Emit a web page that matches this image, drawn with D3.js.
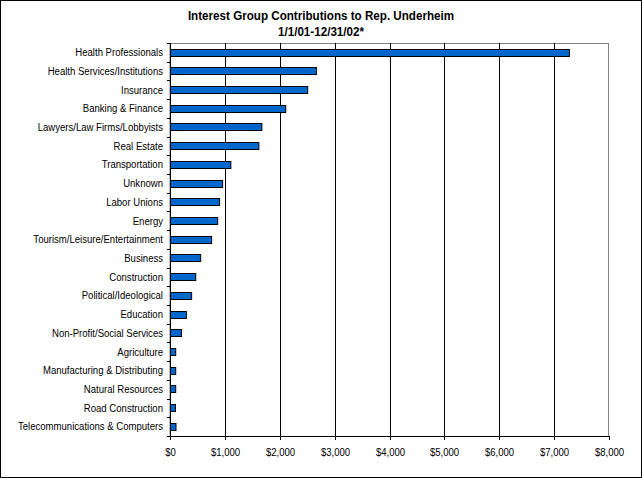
<!DOCTYPE html>
<html>
<head>
<meta charset="utf-8">
<script src="https://cdn.jsdelivr.net/npm/d3@7"></script>
<style>
  body { margin: 0; background: #fff; }
  svg { display: block; font-family: "Liberation Sans", Arial, sans-serif; }
</style>
</head>
<body>
<svg id="chart" width="642" height="478"></svg>
<script>
"use strict";

// contributions by interest group
var groups = [
  "Health Professionals", "Health Services/Institutions", "Insurance", "Banking & Finance",
  "Lawyers/Law Firms/Lobbyists", "Real Estate", "Transportation", "Unknown", "Labor Unions",
  "Energy", "Tourism/Leisure/Entertainment", "Business", "Construction", "Political/Ideological",
  "Education", "Non-Profit/Social Services", "Agriculture", "Manufacturing & Distributing",
  "Natural Resources", "Road Construction", "Telecommunications & Computers"
];
var amounts = [7270, 2660, 2500, 2100, 1665, 1610, 1100, 950, 895, 860, 750, 550, 460, 385,
  290, 200, 95, 95, 95, 90, 100];
var xTicks = [0, 1000, 2000, 3000, 4000, 5000, 6000, 7000, 8000];

var svg = d3.select("#chart");
var margin = { left: 170, right: 33, top: 43, bottom: 42 };
var width = 642 - margin.left - margin.right;
var height = 478 - margin.top - margin.bottom;
// the original font is narrower than Arial, squeeze labels a bit
var squeeze = 0.87;

// outer frame
svg.append("rect")
  .attr("x", 0.5).attr("y", 0.5)
  .attr("width", 641).attr("height", 477)
  .attr("fill", "#fff").attr("stroke", "#000");

// title
svg.append("text").text("Interest Group Contributions to Rep. Underheim")
  .attr("transform", "translate(321,20) scale(0.97,1)").attr("text-anchor", "middle")
  .attr("font-size", "12px").attr("font-weight", "bold");
svg.append("text").text("1/1/01-12/31/02*")
  .attr("transform", "translate(321,36) scale(0.97,1)").attr("text-anchor", "middle")
  .attr("font-size", "12px").attr("font-weight", "bold");

var x = d3.scaleLinear().domain([0, 8000]).range([0, width]);
var y = d3.scaleBand().domain(groups).range([0, height]).paddingInner(0.6).paddingOuter(0.3);
var yEdge = d3.scaleLinear().domain([0, groups.length]).range([0, height]);

var g = svg.append("g").attr("transform", "translate(" + margin.left + "," + margin.top + ")");

// plot area border (grey)
g.append("rect")
  .attr("x", 0).attr("y", 0.5)
  .attr("width", width - 0.5).attr("height", height)
  .attr("fill", "none").attr("stroke", "#808080");

// vertical gridlines
g.selectAll("line.grid")
  .data(xTicks.slice(1, -1))
  .enter().append("line")
  .attr("class", "grid")
  .attr("x1", function(d) { return Math.round(x(d)) + 0.5; })
  .attr("x2", function(d) { return Math.round(x(d)) + 0.5; })
  .attr("y1", 0).attr("y2", height)
  .attr("stroke", "#000");

// bars
g.selectAll("rect.bar")
  .data(amounts)
  .enter().append("rect")
  .attr("class", "bar")
  .attr("x", 0.5)
  .attr("y", function(d, i) { return Math.round(y(groups[i])) + 0.5; })
  .attr("width", function(d) { return x(d); })
  .attr("height", Math.round(y.bandwidth()))
  .attr("fill", "#0066cc")
  .attr("stroke", "#000");

// category axis: ticks sit between categories
var yAxis = g.append("g");
yAxis.append("line")
  .attr("x1", 0.5).attr("x2", 0.5).attr("y1", 0).attr("y2", height + 4)
  .attr("stroke", "#000");
yAxis.selectAll("line.tick")
  .data(d3.range(groups.length + 1))
  .enter().append("line")
  .attr("class", "tick")
  .attr("x1", -3).attr("x2", 0.5)
  .attr("y1", function(d) { return Math.round(yEdge(d)) + 0.5; })
  .attr("y2", function(d) { return Math.round(yEdge(d)) + 0.5; })
  .attr("stroke", "#000");
yAxis.selectAll("text")
  .data(groups)
  .enter().append("text")
  .text(function(d) { return d; })
  .attr("transform", function(d) {
    return "translate(-7," + (y(d) + y.bandwidth() / 2) + ") scale(" + squeeze + ",1)";
  })
  .attr("dy", "0.35em")
  .attr("text-anchor", "end")
  .attr("font-size", "11px");

// value axis
var xAxis = g.append("g")
  .attr("transform", "translate(0," + height + ")");
xAxis.append("line")
  .attr("x1", 0).attr("x2", width).attr("y1", 0.5).attr("y2", 0.5)
  .attr("stroke", "#000");
var ticks = xAxis.selectAll("g.tick")
  .data(xTicks)
  .enter().append("g")
  .attr("class", "tick")
  .attr("transform", function(d) { return "translate(" + Math.round(x(d)) + ",0)"; });
ticks.append("line")
  .attr("x1", 0.5).attr("x2", 0.5).attr("y1", 0).attr("y2", 4)
  .attr("stroke", "#000");
ticks.append("text")
  .text(function(d) { return "$" + d3.format(",")(d); })
  .attr("transform", "translate(0.5,16) scale(" + squeeze + ",1)")
  .attr("dy", "0.35em")
  .attr("text-anchor", "middle")
  .attr("font-size", "11px");
</script>
</body>
</html>
